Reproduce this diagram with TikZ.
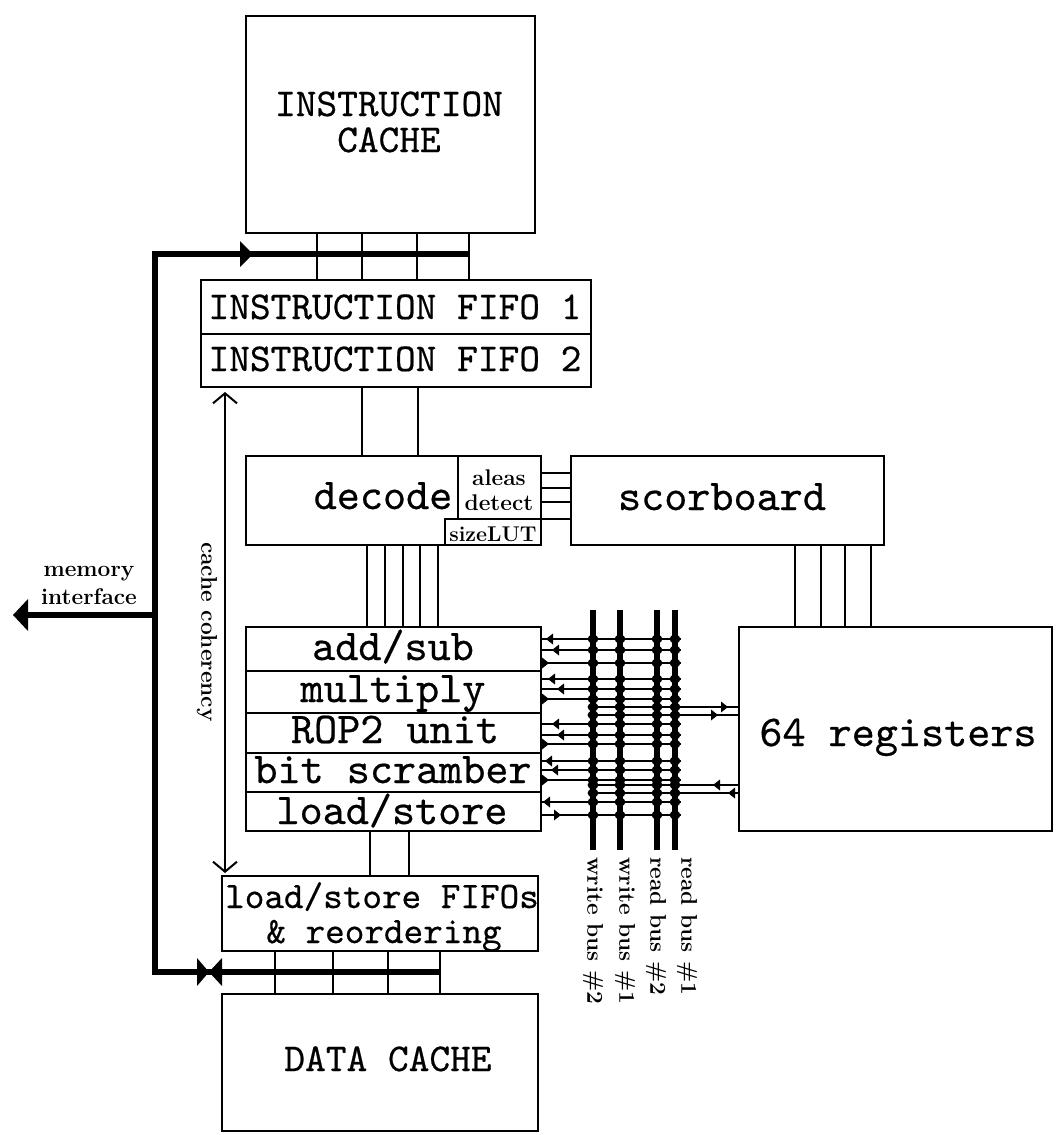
\documentclass[tikz,border=0pt]{standalone}
\usepackage{fontspec}
\newfontfamily\heavytt{lmmono10-regular.otf}[FakeBold=0.5]
\usetikzlibrary{calc,arrows.meta}
\tikzset{
  box/.style={draw, line width=1.5pt, inner sep=0pt, outer sep=0pt, anchor=north west},
  wire/.style={line width=1.5pt},
  membus/.style={line width=3.8pt},
  databus/.style={line width=3.8pt},
  bigtt/.style={font={\heavytt\fontsize{29.6}{32}\selectfont}, inner sep=0pt, anchor=base},
  smalltt/.style={font={\heavytt\fontsize{28}{30}\selectfont}, inner sep=0pt, anchor=base},
  midtt/.style={font={\heavytt\fontsize{33}{36}\selectfont}, inner sep=0pt, anchor=base},
  lbl/.style={font={\bfseries\fontsize{17}{19}\selectfont}, inner sep=0pt},
  barb/.style={line width=1.5pt, {Straight Barb[length=7.5pt,width=18pt]}-{Straight Barb[length=7.5pt,width=18pt]}}
}
\newcommand\mkbox[5]{\node[box, minimum width=#4*0.75pt, minimum height=#5*0.75pt] (#1) at (#2,#3) {};}
\newcommand\tipL[2]{\fill (#1,#2) -- ++(7,-5.5) -- ++(0,11) -- cycle;}
\newcommand\tipR[2]{\fill (#1,#2) -- ++(-7,-5.5) -- ++(0,11) -- cycle;}
\begin{document}
\begin{tikzpicture}[x=0.75pt,y=-0.75pt]
\useasboundingbox (0,0) rectangle (1056,1135);
% boxes
\mkbox{ic}{246}{16}{289}{217}
\mkbox{f1}{201}{280}{390}{54}
\mkbox{f2}{201}{334}{390}{53}
\mkbox{dec}{246}{456}{295}{89}
\mkbox{lut}{445}{519}{96}{26}
\mkbox{sb}{571}{456}{313}{89}
\mkbox{as}{246}{627}{295}{44}
\mkbox{mul}{246}{671}{295}{42}
\mkbox{rop}{246}{713}{295}{40}
\mkbox{bit}{246}{753}{295}{39}
\mkbox{ls}{246}{792}{295}{39}
\mkbox{reg}{739}{627}{313}{204}
\mkbox{lsf}{222}{876}{316}{75}
\mkbox{dc}{222}{994}{316}{137}
\draw[wire] ($(dec.north west)+(212,0)$) -- ($(lut.north west)+(13,0)$);
% texts
\node[bigtt] (t1) at (389,116) {INSTRUCTION};
\node[bigtt] (t2) at (389,152) {CACHE};
\node[bigtt] (t3) at (395,319) {INSTRUCTION FIFO 1};
\node[bigtt] (t4) at (395,371) {INSTRUCTION FIFO 2};
\node[midtt] (t5) at (383,509) {decode};
\node[lbl, anchor=base] (t6) at (499,485) {aleas};
\node[lbl, anchor=base] (t7) at (499,510) {detect};
\node[lbl, anchor=base, font={\bfseries\fontsize{16}{18}\selectfont}] (t8) at (493,541) {sizeLUT};
\node[midtt] (t9) at (722,510) {scorboard};
\node[midtt] (t10) at (393,660) {add/sub};
\node[midtt] (t11) at (393,702) {multiply};
\node[midtt] (t12) at (395,743) {ROP2 unit};
\node[midtt] (t13) at (393,783) {bit scramber};
\node[midtt] (t14) at (392,824) {load/store};
\node[midtt] (t15) at (898,746) {64 registers};
\node[smalltt] (t16) at (382,908) {load/store FIFOs};
\node[smalltt] (t17) at (384,943) {\& reordering};
\node[bigtt] (t18) at (388,1071) {DATA CACHE};
\node[lbl, anchor=base] (t19) at (89,576) {memory};
\node[lbl, anchor=base] (t20) at (89,604) {interface};
\node[lbl, rotate=-90] (t21) at (207,632) {cache coherency};
% simple connectors
\foreach \dx in {71,116,171,223}
  \draw[wire] ($(ic.south west)+(\dx,0)$) -- ($(f1.north west)+(\dx+45,0)$);
\foreach \dx in {116,172}
  \draw[wire] ($(f2.south west)+(\dx+45,0)$) -- ($(dec.north west)+(\dx,0)$);
\foreach \dx in {121,139,157,174,192}
  \draw[wire] ($(dec.south west)+(\dx,0)$) -- ($(as.north west)+(\dx,0)$);
\foreach \dy in {17,32,46,63}
  \draw[wire] ($(dec.north east)+(0,\dy)$) -- ($(sb.north west)+(0,\dy)$);
\foreach \dx in {56,82,106,132}
  \draw[wire] ($(sb.south west)+(\dx+168,0)$) -- ($(reg.north west)+(\dx,0)$);
\foreach \dx in {124,163}
  \draw[wire] ($(ls.south west)+(\dx,0)$) -- ($(lsf.north west)+(\dx+24,0)$);
\foreach \dx in {53,111,166,218}
  \draw[wire] ($(lsf.south west)+(\dx,0)$) -- ($(dc.north west)+(\dx,0)$);
% cache coherency
\draw[barb] ($(f2.south west)+(24,5)$) -- ($(lsf.north west)+(3,-3)$);
% memory bus
\coordinate (memif) at (13,615);
\draw[membus, line join=miter] ($(f1.north west)+(269,-26)$) -- ($(f1.north west)+(-46,-26)$)
   -- ($(lsf.south west)+(-67,21)$) -- ($(lsf.south west)+(218,21)$);
\draw[membus] ($(f1.north west)+(-46,335)$) -- ($(memif)+(13,0)$);
\fill (memif) -- ++(15,-16) -- ++(0,32) -- cycle;
\fill (253,254) -- (240,241) -- (240,267) -- cycle;
\fill (209,972) -- (197,958) -- (197,986) -- cycle;
\fill (209,972) -- (222,958) -- (222,986) -- cycle;
% data buses
\coordinate (wb2t) at (593,610); \coordinate (wb2b) at (593,850);
\coordinate (wb1t) at (620,610); \coordinate (wb1b) at (620,850);
\coordinate (rb2t) at (657,610); \coordinate (rb2b) at (657,850);
\coordinate (rb1t) at (675,610); \coordinate (rb1b) at (675,850);
\draw[databus] (wb2t) -- (wb2b);
\draw[databus] (wb1t) -- (wb1b);
\draw[databus] (rb2t) -- (rb2b);
\draw[databus] (rb1t) -- (rb1b);
\node[lbl, rotate=-90, anchor=west] (l1) at (593,857) {write bus \#2};
\node[lbl, rotate=-90, anchor=west] (l2) at (625,857) {write bus \#1};
\node[lbl, rotate=-90, anchor=west] (l3) at (656,857) {read bus \#2};
\node[lbl, rotate=-90, anchor=west] (l4) at (687,857) {read bus \#1};
% ALU lines
\foreach \u/\dy in {as/12,as/23,as/36,mul/8,mul/18,mul/28,rop/11,rop/22,rop/31,bit/8,bit/17,bit/27,ls/10,ls/23}
  \draw[wire] ($(\u.north east)+(0,\dy)$) -- ++(140,0);
\tipL{546}{639} \tipL{552}{650} \tipR{549}{663}
\tipL{548}{679} \tipL{557}{689} \tipR{549}{699}
\tipL{552}{724} \tipL{557}{735} \tipR{549}{744}
\tipL{545}{761} \tipL{551}{770} \tipR{549}{780}
\tipL{543}{802} \tipR{561}{815}
% register lines
\foreach \dy in {80,88,158,166}
  \draw[wire] ($(reg.north west)+(-146,\dy)$) -- ($(reg.north west)+(0,\dy)$);
\tipR{728}{707} \tipR{718}{715} \tipL{713}{785} \tipL{728}{793}
% junction dots
\foreach \yy in {639,650,663,679,689,699,707,715,724,735,744,761,770,780,785,793,802,815}
  \foreach \bx in {593,620,657,675}
    \fill (\bx,\yy) ellipse [x radius=5.5, y radius=4.3];
\end{tikzpicture}
\end{document}
